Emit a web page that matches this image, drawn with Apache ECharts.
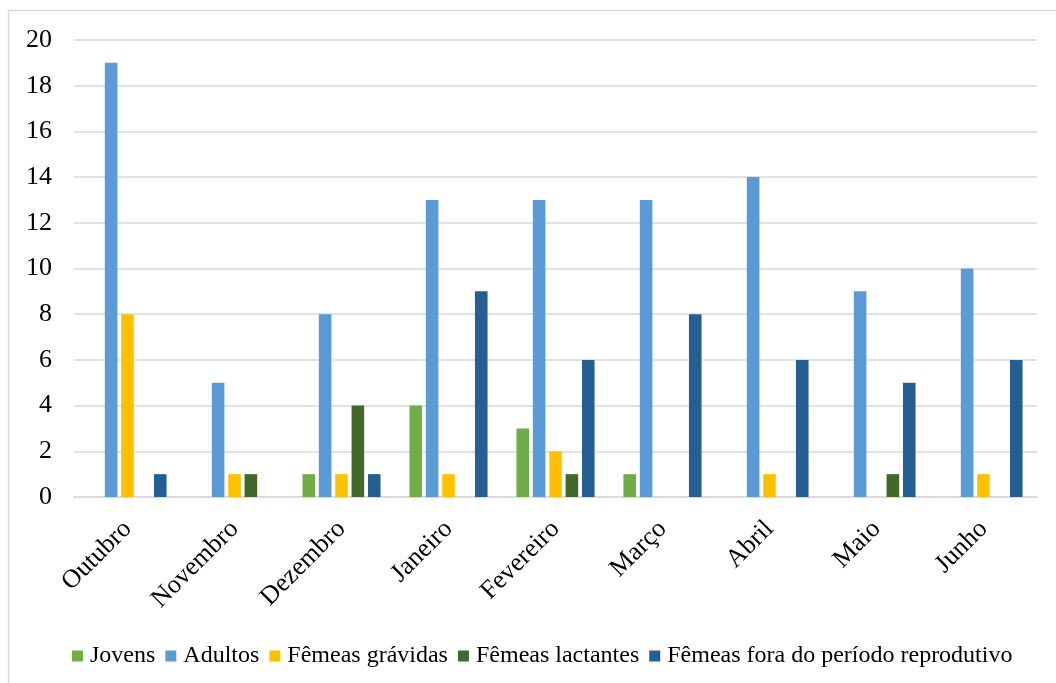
<!DOCTYPE html>
<html>
<head>
<meta charset="utf-8">
<script src="https://cdn.jsdelivr.net/npm/echarts@6/dist/echarts.min.js"></script>
<style>
  html, body { margin: 0; padding: 0; background: #fff; }
  #chart { width: 1056px; height: 683px; }
</style>
</head>
<body>
<div id="chart"></div>
<script>
// Monthly counts by group
const months = ['Outubro', 'Novembro', 'Dezembro', 'Janeiro', 'Fevereiro', 'Março', 'Abril', 'Maio', 'Junho'];
const jovens = [0, 0, 1, 4, 3, 1, 0, 0, 0];
const adultos = [19, 5, 8, 13, 13, 13, 14, 9, 10];
const femeasGravidas = [8, 1, 1, 1, 2, 0, 1, 0, 1];
const femeasLactantes = [0, 1, 4, 0, 1, 0, 0, 1, 0];
const femeasFora = [1, 0, 1, 9, 6, 8, 6, 5, 6];
const yTicks = [0, 2, 4, 6, 8, 10, 12, 14, 16, 18, 20];

const FONT = '"Liberation Serif", "Times New Roman", serif';

const seriesDefs = [
  { name: 'Jovens', data: jovens, color: '#70AD47' },
  { name: 'Adultos', data: adultos, color: '#5B9BD5' },
  { name: 'Fêmeas grávidas', data: femeasGravidas, color: '#FFC000' },
  { name: 'Fêmeas lactantes', data: femeasLactantes, color: '#43682B' },
  { name: 'Fêmeas fora do período reprodutivo', data: femeasFora, color: '#255E91' }
];

const chart = echarts.init(document.getElementById('chart'), null, { renderer: 'canvas' });

chart.setOption({
  animation: false,
  backgroundColor: '#fff',
  textStyle: { fontFamily: FONT },
  graphic: [{
    type: 'rect',
    shape: { x: 8.5, y: 10.5, width: 1060, height: 690 },
    style: { fill: 'none', stroke: '#d9d9d9', lineWidth: 1.5 },
    silent: true
  }],
  grid: { left: 74, right: 19, top: 40, bottom: 186, containLabel: false },
  legend: {
    bottom: 10,
    left: 67,
    padding: 5,
    itemWidth: 11,
    itemHeight: 11,
    itemGap: 10,
    icon: 'rect',
    textStyle: { fontFamily: FONT, fontSize: 24, color: '#000', padding: [0, 0, 0, 2] },
    data: seriesDefs.map(s => s.name)
  },
  xAxis: {
    type: 'category',
    data: months,
    axisLine: { show: true, lineStyle: { color: '#d9d9d9', width: 1.5 } },
    axisTick: { show: false },
    axisLabel: {
      rotate: 45,
      interval: 0,
      margin: 28,
      fontFamily: FONT,
      fontSize: 26,
      color: '#000'
    }
  },
  yAxis: {
    type: 'value',
    min: yTicks[0],
    max: yTicks[yTicks.length - 1],
    interval: 2,
    axisLine: { show: false },
    axisTick: { show: false },
    axisLabel: { margin: 22, fontFamily: FONT, fontSize: 26, color: '#000' },
    splitLine: { lineStyle: { color: '#d9d9d9', width: 1.5 } }
  },
  series: seriesDefs.map(s => ({
    name: s.name,
    type: 'bar',
    data: s.data,
    barGap: '30%',
    barCategoryGap: '27%',
    itemStyle: { color: s.color }
  }))
});
</script>
</body>
</html>
